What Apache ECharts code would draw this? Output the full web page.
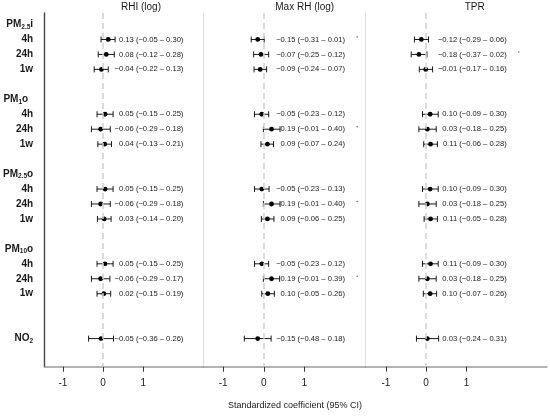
<!DOCTYPE html>
<html>
<head>
<meta charset="utf-8">
<script src="https://cdn.jsdelivr.net/npm/echarts@6/dist/echarts.min.js"></script>
<style>
  html, body { margin: 0; padding: 0; background: #fff; }
  #chart { width: 550px; height: 416px; }
</style>
</head>
<body>
<div id="chart"></div>
<script>
  // row positions on the y axis (0 = top), headers have no estimate
  var labelRows = [0, 1, 2, 3, 5, 6, 7, 8, 10, 11, 12, 13, 15, 16, 17, 18, 21];
  var rowNames = ['{n|PM}{s|2.5}{n|i}', '4h', '24h', '1w',
                  '{n|PM}{s|1}{n|o}{g|}', '4h', '24h', '1w',
                  '{n|PM}{s|2.5}{n|o}', '4h', '24h', '1w',
                  '{n|PM}{s|10}{n|o}', '4h', '24h', '1w',
                  '{n|NO}{s|2}'];
  var dataRows = [1, 2, 3, 6, 7, 8, 11, 12, 13, 16, 17, 18, 21];

  var panelTitles = ['RHI (log)', 'Max RH (log)', 'TPR'];

  var rhiEst  = [0.13, 0.08, -0.04, 0.05, -0.06, 0.04, 0.05, -0.06, 0.03, 0.05, -0.06, 0.02, -0.05];
  var rhiLow  = [-0.05, -0.12, -0.22, -0.15, -0.29, -0.13, -0.15, -0.29, -0.14, -0.15, -0.29, -0.15, -0.36];
  var rhiHigh = [0.30, 0.28, 0.13, 0.25, 0.18, 0.21, 0.25, 0.18, 0.20, 0.25, 0.17, 0.19, 0.26];

  var maxRhEst  = [-0.15, -0.07, -0.09, -0.05, 0.19, 0.09, -0.05, 0.19, 0.09, -0.05, 0.19, 0.10, -0.15];
  var maxRhLow  = [-0.31, -0.25, -0.24, -0.23, -0.01, -0.07, -0.23, -0.01, -0.06, -0.23, -0.01, -0.05, -0.48];
  var maxRhHigh = [0.01, 0.12, 0.07, 0.12, 0.40, 0.24, 0.13, 0.40, 0.25, 0.12, 0.39, 0.26, 0.18];

  var tprEst  = [-0.12, -0.18, -0.01, 0.10, 0.03, 0.11, 0.10, 0.03, 0.11, 0.11, 0.03, 0.10, 0.03];
  var tprLow  = [-0.29, -0.37, -0.17, -0.09, -0.18, -0.06, -0.09, -0.18, -0.05, -0.09, -0.18, -0.07, -0.24];
  var tprHigh = [0.06, 0.02, 0.16, 0.30, 0.25, 0.28, 0.30, 0.25, 0.28, 0.30, 0.25, 0.26, 0.31];

  // rows marked with a small dot (p < 0.1)
  var rhiSig = [];
  var maxRhSig = [1, 7, 12, 17];
  var tprSig = [2];

  var xTicks = [-1, 0, 1];

  var FONT = 'Liberation Sans, Arial, sans-serif';
  var TXT = '#1a1a1a';

  var panels = [
    { est: rhiEst, low: rhiLow, high: rhiHigh, sig: rhiSig, left: 42, width: 161.3, min: -1.467, max: 2.496, titleX: 141 },
    { est: maxRhEst, low: maxRhLow, high: maxRhHigh, sig: maxRhSig, left: 203.3, width: 162, min: -1.49, max: 2.5, titleX: 304.7 },
    { est: tprEst, low: tprLow, high: tprHigh, sig: tprSig, left: 365.3, width: 181.7, min: -1.51, max: 3.0, titleX: 474.7 }
  ];

  function fmt(v) {
    return (v < 0 ? '\u2212' : '') + Math.abs(v).toFixed(2);
  }

  function renderBar(params, api) {
    var est = api.value(0), lo = api.value(1), hi = api.value(2), row = api.value(3);
    var p = api.coord([est, row]);
    var l = api.coord([lo, row]);
    var h = api.coord([hi, row]);
    var t = api.coord([2, row]);
    var cap = 3;
    var ls = { stroke: '#000', lineWidth: 0.9 };
    return {
      type: 'group',
      children: [
        { type: 'line', shape: { x1: l[0], y1: p[1], x2: h[0], y2: p[1] }, style: ls },
        { type: 'line', shape: { x1: l[0], y1: p[1] - cap, x2: l[0], y2: p[1] + cap }, style: ls },
        { type: 'line', shape: { x1: h[0], y1: p[1] - cap, x2: h[0], y2: p[1] + cap }, style: ls },
        { type: 'circle', shape: { cx: p[0], cy: p[1], r: 2.4 }, style: { fill: '#000' } },
        { type: 'text', x: t[0], y: p[1], style: {
            text: fmt(est) + ' (' + fmt(lo) + ' \u2013 ' + fmt(hi) + ')',
            align: 'right', verticalAlign: 'middle',
            fontSize: 7.6, fontFamily: FONT, fill: TXT
        } }
      ]
    };
  }

  function renderSig(params, api) {
    var p = api.coord([api.value(0), api.value(1)]);
    return { type: 'circle', shape: { cx: p[0], cy: p[1] - 2.5, r: 0.7 }, style: { fill: '#555' } };
  }

  var grids = [], xAxes = [], yAxes = [], series = [], titles = [];

  panels.forEach(function(pn, i) {
    grids.push({ left: pn.left, width: pn.width, top: 13, bottom: 49.3 });

    xAxes.push({
      gridIndex: i, type: 'value', min: pn.min, max: pn.max, position: 'bottom',
      splitLine: { show: false },
      axisLine: { show: true, onZero: false, lineStyle: { color: '#999', width: 1.5 } },
      axisTick: { show: true, customValues: xTicks, length: 5, lineStyle: { color: '#333', width: 1 } },
      axisLabel: { customValues: xTicks, margin: 12, fontSize: 10, fontFamily: FONT, color: TXT }
    });

    yAxes.push({
      gridIndex: i, type: 'value', inverse: true, min: -0.77, max: 22.88,
      splitLine: { show: false },
      axisTick: { show: false },
      axisLine: { show: true, onZero: false, lineStyle: { color: i === 0 ? '#444' : '#dedede', width: i === 0 ? 1.4 : 1 } },
      axisLabel: {
        show: i === 0,
        customValues: labelRows,
        margin: 11,
        fontSize: 10, fontWeight: 'bold', fontFamily: FONT, color: TXT,
        formatter: function(v) {
          var k = labelRows.indexOf(Math.round(v));
          return k < 0 ? '' : rowNames[k];
        },
        rich: {
          n: { fontSize: 10, fontWeight: 'bold', fontFamily: FONT, color: TXT },
          s: { fontSize: 6.5, fontWeight: 'bold', fontFamily: FONT, color: TXT, padding: [5, 0, 0, 0] },
          g: { width: 5 }
        }
      }
    });

    var items = dataRows.map(function(r, k) {
      return [pn.est[k], pn.low[k], pn.high[k], r];
    });

    series.push({
      type: 'custom', xAxisIndex: i, yAxisIndex: i,
      renderItem: renderBar,
      encode: { x: [0, 1, 2], y: 3 },
      data: items,
      silent: true,
      z: 3,
      markLine: {
        silent: true, symbol: 'none', label: { show: false },
        lineStyle: { color: '#d0d0d0', type: [6, 4], width: 1.5 },
        data: [{ xAxis: 0 }]
      }
    });

    series.push({
      type: 'custom', xAxisIndex: i, yAxisIndex: i,
      renderItem: renderSig,
      encode: { x: 0, y: 1 },
      data: pn.sig.map(function(r) { return [2.3, r]; }),
      silent: true
    });

    titles.push({
      text: panelTitles[i], left: pn.titleX, top: 2, textAlign: 'center', padding: 0,
      textStyle: { fontSize: 10, fontWeight: 'normal', fontFamily: FONT, color: TXT }
    });
  });

  titles.push({
    text: 'Standardized coefficient (95% CI)', left: 295, top: 401, textAlign: 'center', padding: 0,
    textStyle: { fontSize: 9, fontWeight: 'normal', fontFamily: FONT, color: TXT }
  });

  var chart = echarts.init(document.getElementById('chart'), null, { renderer: 'canvas' });
  chart.setOption({
    backgroundColor: '#fff',
    animation: false,
    title: titles,
    grid: grids,
    xAxis: xAxes,
    yAxis: yAxes,
    series: series
  });
</script>
</body>
</html>
